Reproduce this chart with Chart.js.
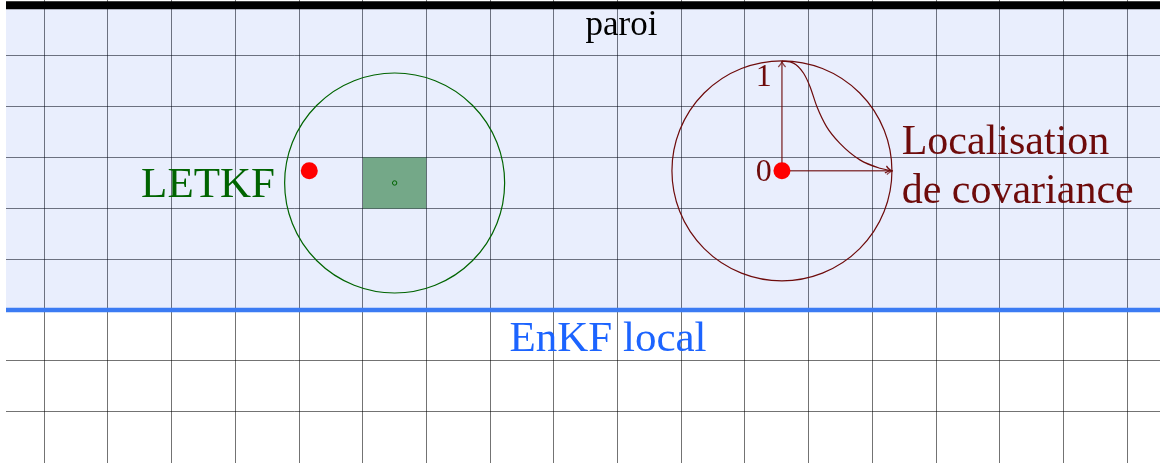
<!DOCTYPE html>
<html>
<head>
<meta charset="utf-8">
<script src="https://cdn.jsdelivr.net/npm/chart.js@4.4.1/dist/chart.umd.min.js"></script>
<style>
  body { margin: 0; background: #fff; }
  canvas { display: block; }
</style>
</head>
<body>
<canvas id="sketch" width="1160" height="463"></canvas>
<script>
// grid (one unit per cell)
const gridCols = [0, 1, 2, 3, 4, 5, 6, 7, 8, 9, 10, 11, 12, 13, 14, 15, 16, 17];
const gridRows = [1, 2, 3, 4, 5, 6, 7, 8, 9];
const xExtent = [-0.601, 17.515];
const yExtent = [-0.012, 9.102];

// domain
const wallY = 9;        // paroi
const localZoneY = 3;   // bottom of the local EnKF zone

// LETKF
const letkfCenter = [{ x: 5.5, y: 5.5 }];
const analysisCellX = [5, 6];
const analysisCellY = [5, 6];

// observations
const observations = [{ x: 4.16, y: 5.74 }, { x: 11.58, y: 5.74 }];

// covariance localisation
const locCenter = [{ x: 11.58, y: 5.74 }];
const locAxisTop = 7.90;
const locAxisRight = 13.32;
const taperX = [11.58, 11.76, 11.92, 12.02, 12.13, 12.28, 12.49, 12.81, 13.12, 13.30];
const taperY = [7.90, 7.86, 7.66, 7.40, 7.00, 6.61, 6.28, 5.95, 5.79, 5.74];

// text
const annotations = [
  { text: 'paroi', x: 9.06, y: 8.41, align: 'center', kind: 'wall' },
  { text: 'EnKF local', x: 8.85, y: 2.19, align: 'center', kind: 'enkf' },
  { text: 'LETKF', x: 3.62, y: 5.22, align: 'right', kind: 'letkf' },
  { text: 'Localisation', x: 13.46, y: 6.07, align: 'left', kind: 'loc' },
  { text: 'de covariance', x: 13.46, y: 5.10, align: 'left', kind: 'loc' },
  { text: '1', x: 11.42, y: 7.40, align: 'right', kind: 'tick' },
  { text: '0', x: 11.42, y: 5.53, align: 'right', kind: 'tick' }
];

const GREEN = '#006400';
const MAROON = '#6e0b0b';
const labelStyle = {
  wall: { color: '#000000', size: 35 },
  enkf: { color: '#1c64ff', size: 43 },
  letkf: { color: GREEN, size: 43 },
  loc: { color: MAROON, size: 42 },
  tick: { color: MAROON, size: 32 }
};

const span = (y) => [{ x: xExtent[0], y: y }, { x: xExtent[1], y: y }];
const pairs = (xs, ys) => xs.map((x, i) => ({ x: x, y: ys[i] }));

// arrow heads and text labels
const decorations = {
  id: 'decorations',
  afterDatasetsDraw(chart) {
    const ctx = chart.ctx;
    chart.data.datasets.forEach((ds, i) => {
      if (!ds.arrow) return;
      const pts = chart.getDatasetMeta(i).data;
      const tip = pts[pts.length - 1];
      const prev = pts[pts.length - 2];
      const a = Math.atan2(tip.y - prev.y, tip.x - prev.x);
      const len = 7, spread = 0.55;
      ctx.save();
      ctx.strokeStyle = ds.borderColor;
      ctx.lineWidth = 1.2;
      ctx.beginPath();
      ctx.moveTo(tip.x - len * Math.cos(a - spread), tip.y - len * Math.sin(a - spread));
      ctx.quadraticCurveTo(tip.x - 2 * Math.cos(a), tip.y - 2 * Math.sin(a), tip.x, tip.y);
      ctx.quadraticCurveTo(tip.x - 2 * Math.cos(a), tip.y - 2 * Math.sin(a),
        tip.x - len * Math.cos(a + spread), tip.y - len * Math.sin(a + spread));
      ctx.stroke();
      ctx.restore();
    });

    const xs = chart.scales.x, ys = chart.scales.y;
    ctx.save();
    ctx.textBaseline = 'alphabetic';
    annotations.forEach(a => {
      const st = labelStyle[a.kind];
      ctx.fillStyle = st.color;
      ctx.font = st.size + 'px "Liberation Serif", "DejaVu Serif", serif';
      ctx.textAlign = a.align;
      ctx.fillText(a.text, xs.getPixelForValue(a.x), ys.getPixelForValue(a.y));
    });
    ctx.restore();
  }
};

new Chart(document.getElementById('sketch'), {
  type: 'scatter',
  data: {
    datasets: [
      {
        label: 'observations',
        data: observations,
        pointRadius: 8.5,
        backgroundColor: '#ff0000',
        borderWidth: 0
      },
      {
        label: 'taper',
        data: pairs(taperX, taperY),
        showLine: true,
        cubicInterpolationMode: 'monotone',
        borderColor: MAROON,
        borderWidth: 1.2,
        pointRadius: 0,
        arrow: true
      },
      {
        label: 'axis 1',
        data: [locCenter[0], { x: locCenter[0].x, y: locAxisTop }],
        showLine: true,
        borderColor: 'rgba(110, 11, 11, 0.75)',
        borderWidth: 1.5,
        pointRadius: 0,
        arrow: true
      },
      {
        label: 'axis 0',
        data: [locCenter[0], { x: locAxisRight, y: locCenter[0].y }],
        showLine: true,
        borderColor: 'rgba(110, 11, 11, 0.75)',
        borderWidth: 1.5,
        pointRadius: 0,
        arrow: true
      },
      {
        label: 'localisation radius',
        data: locCenter,
        pointRadius: 110,
        backgroundColor: 'rgba(0,0,0,0)',
        borderColor: MAROON,
        borderWidth: 1.2
      },
      {
        label: 'analysed point',
        data: letkfCenter,
        pointRadius: 2.2,
        backgroundColor: 'rgba(0,0,0,0)',
        borderColor: GREEN,
        borderWidth: 1
      },
      {
        label: 'LETKF radius',
        data: letkfCenter,
        pointRadius: 110,
        backgroundColor: 'rgba(0,0,0,0)',
        borderColor: GREEN,
        borderWidth: 1.2
      },
      {
        label: 'analysis cell',
        data: pairs(analysisCellX, [analysisCellY[1], analysisCellY[1]]),
        showLine: true,
        borderWidth: 0,
        pointRadius: 0,
        fill: { value: analysisCellY[0] },
        backgroundColor: 'rgba(0, 100, 20, 0.5)'
      },
      {
        label: 'paroi',
        data: span(wallY),
        showLine: true,
        borderColor: '#000000',
        borderWidth: 8,
        pointRadius: 0
      },
      {
        label: 'limite',
        data: span(localZoneY),
        showLine: true,
        borderColor: '#3b7bf3',
        borderWidth: 4.5,
        pointRadius: 0
      },
      {
        label: 'zone',
        data: span(wallY),
        showLine: true,
        borderWidth: 0,
        pointRadius: 0,
        fill: { value: localZoneY },
        backgroundColor: 'rgba(40, 90, 240, 0.1)'
      }
    ]
  },
  options: {
    responsive: false,
    animation: false,
    devicePixelRatio: 1,
    layout: { autoPadding: false, padding: { left: 6, top: 0, right: 0, bottom: 0 } },
    plugins: {
      legend: { display: false },
      tooltip: { enabled: false }
    },
    scales: {
      x: {
        type: 'linear',
        min: xExtent[0],
        max: xExtent[1],
        afterBuildTicks: axis => { axis.ticks = gridCols.map(v => ({ value: v })); },
        ticks: { display: false },
        border: { display: false },
        grid: { color: 'rgba(0, 0, 0, 0.55)', lineWidth: 1, drawTicks: false }
      },
      y: {
        type: 'linear',
        min: yExtent[0],
        max: yExtent[1],
        afterBuildTicks: axis => { axis.ticks = gridRows.map(v => ({ value: v })); },
        ticks: { display: false },
        border: { display: false },
        grid: { color: 'rgba(0, 0, 0, 0.55)', lineWidth: 1, drawTicks: false }
      }
    }
  },
  plugins: [decorations]
});
</script>
</body>
</html>
